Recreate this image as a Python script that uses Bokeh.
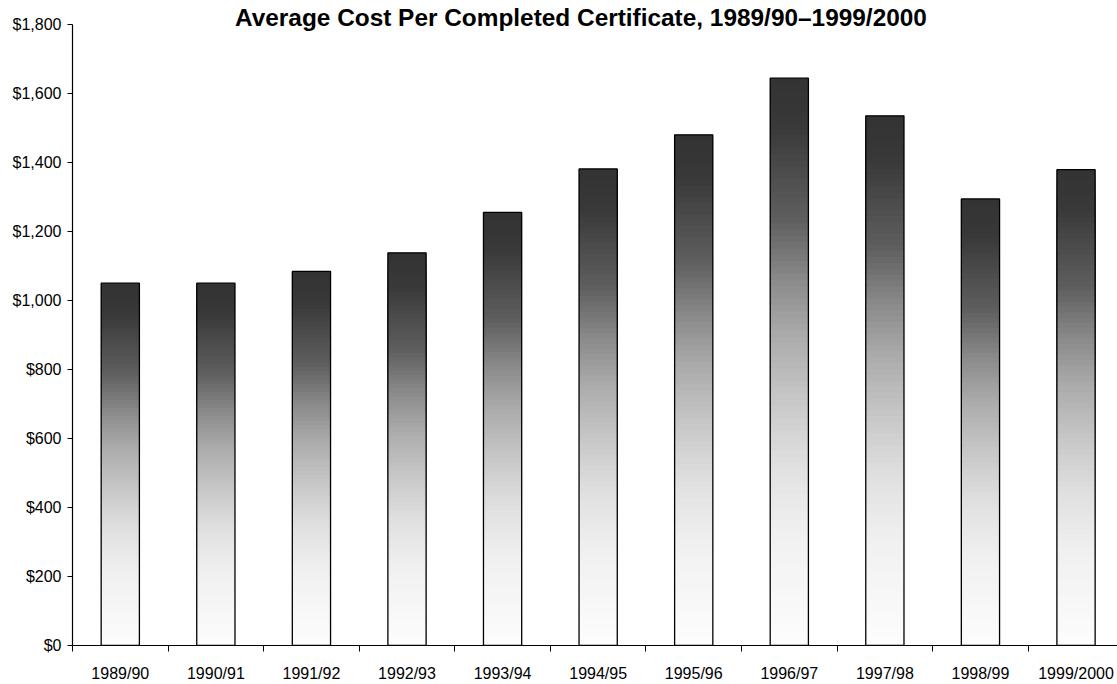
import numpy as np
from bokeh.plotting import figure
from bokeh.models import (Range1d, FixedTicker, NumeralTickFormatter,
                          CustomJSTickFormatter, Label, ColumnDataSource)
from bokeh.embed import file_html
from bokeh.resources import INLINE

# Fiscal years and average cost per completed certificate (dollars)
years = ["1989/90", "1990/91", "1991/92", "1992/93", "1993/94", "1994/95",
         "1995/96", "1996/97", "1997/98", "1998/99", "1999/2000"]
costs = [1050, 1050, 1084, 1138, 1255, 1381, 1480, 1644, 1535, 1294, 1379]
y_ticks = [0, 200, 400, 600, 800, 1000, 1200, 1400, 1600, 1800]

FONT = "Liberation Sans"
BAR_W = 0.4
Y_MAX = 1800
FRAME_H = 649          # plot frame height in pixels (frame starts at canvas top)
TOP_PAD = 24           # pixels between the canvas top and the $1,800 tick
Y_END = Y_MAX * FRAME_H / (FRAME_H - TOP_PAD)

p = figure(width=1117, height=684,
           x_range=Range1d(0, 10.934), y_range=Range1d(0, Y_END),
           output_backend="svg", toolbar_location=None,
           min_border_left=72, min_border_right=0,
           min_border_top=0, min_border_bottom=684 - FRAME_H)
p.outline_line_color = None
p.xgrid.visible = False
p.ygrid.visible = False
p.background_fill_color = "white"
p.border_fill_color = "white"

# Vertical shading of each bar: dark grey at the top fading to white at the base
stop_pos = [0.0, 0.08, 0.25, 0.35, 0.45, 0.57, 0.68, 0.80, 1.0]
stop_val = [51, 56, 95, 136, 170, 200, 224, 240, 253]
N = 90
band = dict(left=[], right=[], bottom=[], top=[], color=[])
for i, v in enumerate(costs):
    for k in range(N):
        f = (k + 0.5) / N
        g = int(round(np.interp(f, stop_pos, stop_val)))
        band["left"].append(i + 0.5 - BAR_W / 2)
        band["right"].append(i + 0.5 + BAR_W / 2)
        band["bottom"].append(0)
        band["top"].append(v * (1 - k / N))
        band["color"].append("#%02x%02x%02x" % (g, g, g))
p.quad(left="left", right="right", bottom="bottom", top="top",
       fill_color="color", line_color=None, source=ColumnDataSource(band))

# Bar outlines
centers = [i + 0.5 for i in range(len(years))]
p.vbar(x=centers, top=costs, width=BAR_W, bottom=0,
       fill_color=None, line_color="black", line_width=1.3)

# X axis: tick marks at category boundaries, labels at category centres
xa = p.xaxis[0]
xa.ticker = FixedTicker(ticks=centers, minor_ticks=list(range(len(years) + 1)))
xa.formatter = CustomJSTickFormatter(args=dict(labels=years),
                                     code="return labels[Math.round(tick - 0.5)];")
xa.major_tick_in = 0
xa.major_tick_out = 0
xa.minor_tick_in = 0
xa.minor_tick_out = 6
xa.minor_tick_line_color = "black"
xa.axis_line_color = "black"
xa.axis_line_width = 1.2
xa.major_label_standoff = 13
xa.major_label_text_font = FONT
xa.major_label_text_font_size = "16px"
xa.major_label_text_color = "black"

# Y axis in dollars, drawn only over the 0..1,800 span
ya = p.yaxis[0]
ya.bounds = (0, Y_MAX)
ya.ticker = FixedTicker(ticks=y_ticks)
ya.formatter = NumeralTickFormatter(format="$0,0")
ya.major_tick_in = 0
ya.major_tick_out = 5
ya.minor_tick_out = 0
ya.minor_tick_in = 0
ya.major_tick_line_color = "black"
ya.axis_line_color = "black"
ya.axis_line_width = 1.2
ya.major_label_standoff = 6
ya.major_label_text_font = FONT
ya.major_label_text_font_size = "16px"
ya.major_label_text_color = "black"

title_y = Y_END * (FRAME_H - 17) / FRAME_H
title = Label(x=5.32, y=title_y,
              text="Average Cost Per Completed Certificate, 1989/90\u20131999/2000",
              text_align="center", text_baseline="alphabetic",
              text_font=FONT, text_font_style="bold", text_font_size="24.4px",
              text_color="black")
p.add_layout(title)

open("out.html", "w").write(file_html(p, INLINE))
